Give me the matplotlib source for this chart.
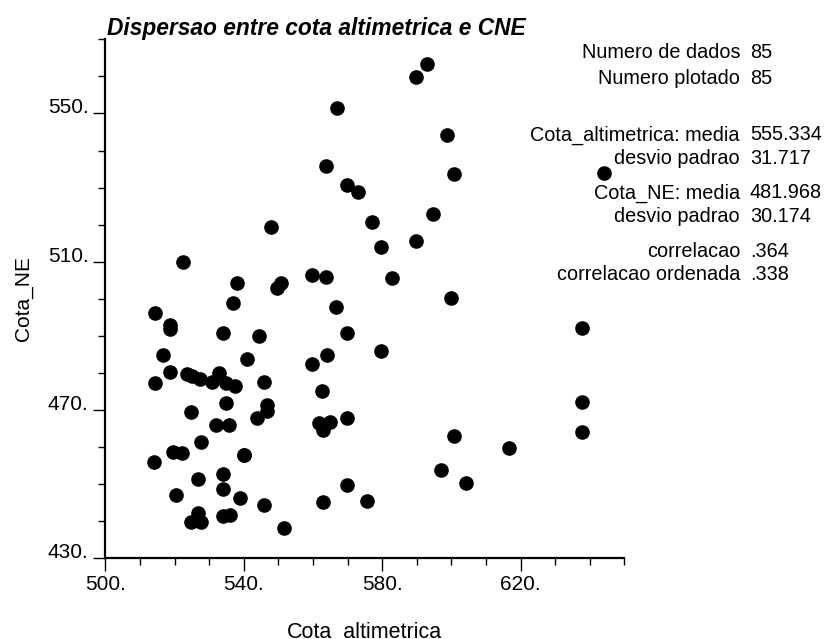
import numpy as np
import matplotlib
matplotlib.use("Agg")
import matplotlib.pyplot as plt
from matplotlib.ticker import MultipleLocator, FuncFormatter

plt.rcParams['font.family'] = ['Liberation Sans', 'DejaVu Sans']

# cota altimetrica (x) e cota NE (y) dos 85 pontos
cota_alt = [566.9, 563.9, 569.9, 572.9,
            593.0, 589.8, 598.9, 600.8, 644.0, 594.8, 577.0,
            547.8, 522.6, 559.8, 563.8, 538.0, 550.8, 549.7, 566.8, 536.8, 514.4,
            518.8, 518.8, 533.9, 569.9, 544.3, 516.8, 564.0, 540.9, 559.8, 518.8,
            523.7, 525.1, 527.3, 532.8, 530.9, 534.9, 537.4, 514.4, 546.0, 562.7,
            579.8, 589.8, 582.8, 599.9, 637.8, 579.8,
            534.9, 546.6, 546.6, 524.8, 531.9, 535.8, 543.9, 561.8, 564.9, 562.8,
            569.9, 527.7, 519.6, 522.2, 514.0, 540.0, 533.9, 526.9, 533.9, 520.3,
            538.9, 546.0, 526.9, 524.8, 527.7, 533.9, 536.1, 551.7, 569.9, 563.0,
            575.5, 540.0,
            637.9, 637.9, 600.8, 616.7, 596.9, 604.2]
cota_ne = [551.5, 535.8, 530.8, 528.7,
           563.3, 559.9, 544.3, 533.6, 534.0, 523.0, 520.8,
           519.3, 509.9, 506.4, 505.9, 504.2, 504.3, 503.0, 497.9, 498.8, 496.2,
           492.9, 491.8, 490.8, 490.9, 489.9, 484.9, 484.9, 483.8, 482.4, 480.3,
           479.8, 479.2, 478.4, 479.9, 477.5, 477.4, 476.4, 477.3, 477.5, 475.2,
           513.9, 515.6, 505.5, 500.1, 492.0, 486.0,
           471.8, 471.3, 469.8, 469.5, 465.9, 465.9, 467.8, 466.4, 466.7, 464.6,
           467.8, 461.4, 458.7, 458.5, 456.1, 458.0, 452.8, 451.3, 448.8, 447.1,
           446.2, 444.3, 442.1, 439.8, 439.7, 441.5, 441.7, 438.3, 449.8, 445.3,
           445.5, 458.0,
           472.2, 464.0, 463.0, 459.7, 453.7, 450.2]

stat_labels = ["Numero de dados", "Numero plotado",
               "Cota_altimetrica: media", "desvio padrao",
               "Cota_NE: media", "desvio padrao",
               "correlacao", "correlacao ordenada"]
stat_values = ["85", "85", "555.334", "31.717", "481.968", "30.174", ".364", ".338"]
stat_rows_px = [53, 78, 135, 158, 193, 216, 252, 275]

W, H = 825, 639
fig = plt.figure(figsize=(W / 100, H / 100), dpi=100)
ax = fig.add_axes([105.3 / W, 1 - 558.3 / H, 519 / W, 519 / H])

ax.plot(cota_alt, cota_ne, 'o', color='black', markersize=9.5, clip_on=False)

ax.set_xlim(500, 650)
ax.set_ylim(430, 570)
for s in ['top', 'right']:
    ax.spines[s].set_visible(False)
for s in ['left', 'bottom']:
    ax.spines[s].set_linewidth(1.6)

ax.xaxis.set_minor_locator(MultipleLocator(10))
ax.yaxis.set_minor_locator(MultipleLocator(10))
fmt = FuncFormatter(lambda v, p: f"{v:.0f}.")
ax.xaxis.set_major_formatter(fmt)
ax.yaxis.set_major_formatter(fmt)
ax.set_xticks([500, 540, 580, 620])
ax.set_yticks([430, 470, 510, 550])
ax.tick_params(which='major', direction='out', length=9, width=1.0, labelsize=15, pad=3)
ax.tick_params(which='minor', direction='out', length=5, width=1.0)
for lab in ax.get_yticklabels():
    lab.set_verticalalignment('baseline')

ax.set_ylabel("Cota_NE", fontsize=15)
ax.yaxis.set_label_coords(-72 / 519, 0.5)
# rotulo do eixo x fica colado na borda inferior da figura
fig.text(364.8 / W, 1 - 638 / H, "Cota_altimetrica", fontsize=15.5,
         ha='center', va='baseline')

fig.text(107 / W, 1 - 29 / H, "Dispersao entre cota altimetrica e CNE",
         fontsize=16.4, fontweight='bold', style='italic', ha='left', va='center')

for lab, val, ypx in zip(stat_labels, stat_values, stat_rows_px):
    fig.text(740 / W, 1 - ypx / H, lab, fontsize=14.3, ha='right', va='center')
    fig.text(750 / W, 1 - ypx / H, val, fontsize=14.3, ha='left', va='center')

fig.savefig("out.png", dpi=100)
